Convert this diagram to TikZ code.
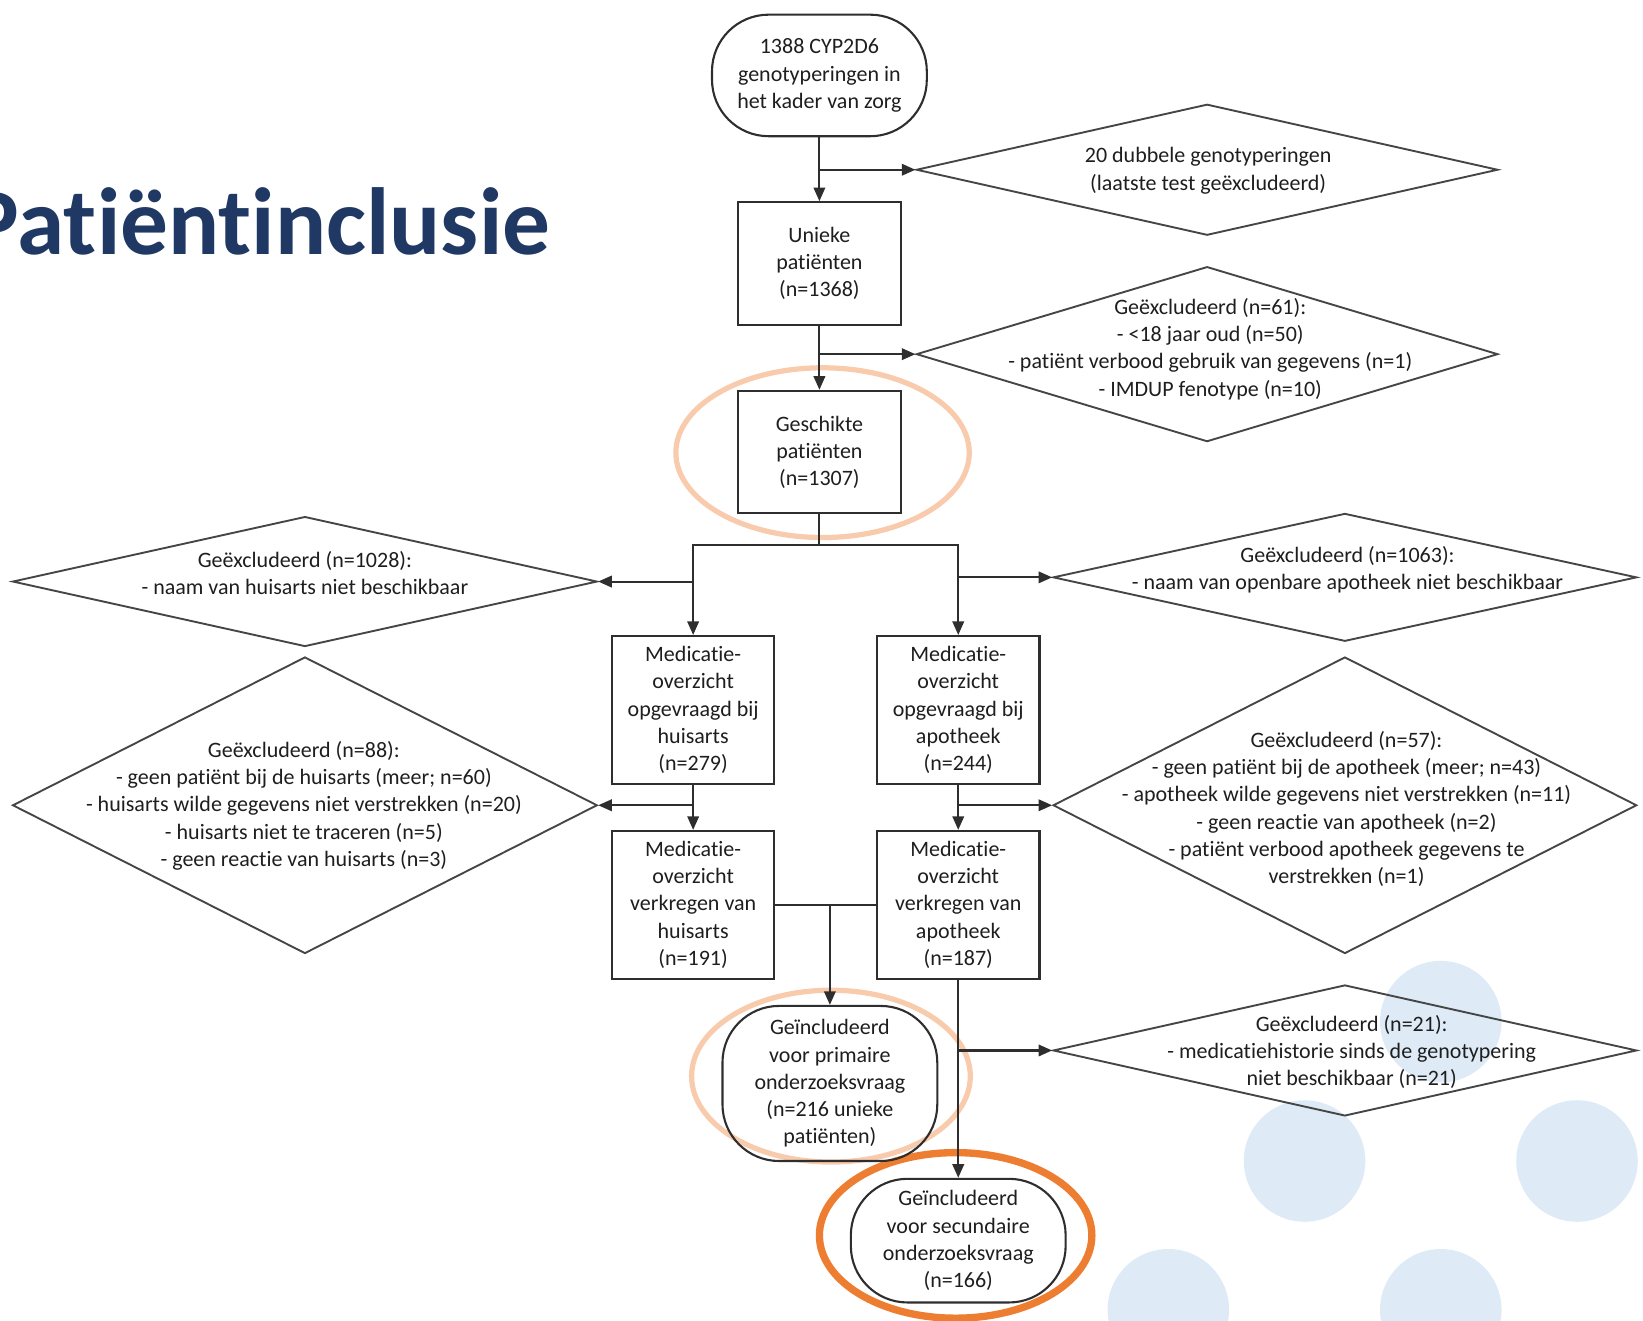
\documentclass[tikz,border=0pt]{standalone}
\usepackage{fontspec}
\setmainfont{Carlito}[Ligatures=NoCommon]
\usetikzlibrary{shapes.geometric,arrows.meta}
\definecolor{navy}{HTML}{1F3864}
\definecolor{txtcol}{HTML}{1E1E1E}
\definecolor{linecol}{HTML}{2E2E2E}
\definecolor{diacol}{HTML}{454545}
\definecolor{salmon}{HTML}{F8CBAD}
\definecolor{orng}{HTML}{ED7D31}
\definecolor{dotblue}{HTML}{DEEBF7}
\begin{document}
\begin{tikzpicture}[x=1pt,y=-1pt,
  txt/.style={font=\fontsize{21}{26}\selectfont, align=center, text=txtcol, inner sep=0pt},
  boxnode/.style={txt, draw=linecol, line width=2pt, rectangle, minimum width=155pt},
  termnode/.style={txt, draw=linecol, line width=2pt, rectangle, rounded corners=54pt, minimum width=205pt},
  dianode/.style={diamond, draw=diacol, line width=1.8pt, inner sep=0pt},
  conn/.style={draw=linecol, line width=2pt},
  arr/.style={conn, -{Triangle[length=13pt,width=11pt]}},
  hl/.style={line width=5pt, draw=salmon},
  dot/.style={fill=dotblue, draw=none}
]
\useasboundingbox (0,0) rectangle (1568,1260);
% decorative dots
\fill[dot] (1375,975) circle (58pt);
\fill[dot] (1245,1108) circle (58pt);
\fill[dot] (1505,1108) circle (58pt);
\fill[dot] (1115,1250) circle (58pt);
\fill[dot] (1375,1250) circle (58pt);
% highlight ellipses
\draw[hl] (785,432) ellipse (140pt and 81pt);
\draw[hl] (793,1027) ellipse (133pt and 82pt);
\draw[line width=7pt, draw=orng] (912,1179) ellipse (130pt and 79pt);
% title
\node[anchor=base west, font=\fontsize{91}{100}\selectfont\bfseries, text=navy, inner sep=0pt] (title) at (-30,243) {Patiëntinclusie};
% main column
\node[termnode, minimum height=116pt] (t0) at (782,72) {1388 CYP2D6\\genotyperingen in\\het kader van zorg};
\node[boxnode, minimum height=117pt] (b1) at (782,251.5) {Unieke\\patiënten\\(n=1368)};
\node[boxnode, minimum height=117pt] (b2) at (782,431.5) {Geschikte\\patiënten\\(n=1307)};
\node[boxnode, minimum height=141pt] (b3) at (661.5,677.5) {Medicatie-\\overzicht\\opgevraagd bij\\huisarts\\(n=279)};
\node[boxnode, minimum height=141pt] (b4) at (914.5,677.5) {Medicatie-\\overzicht\\opgevraagd bij\\apotheek\\(n=244)};
\node[boxnode, minimum height=141pt] (b5) at (661.5,863.5) {Medicatie-\\overzicht\\verkregen van\\huisarts\\(n=191)};
\node[boxnode, minimum height=141pt] (b6) at (914.5,863.5) {Medicatie-\\overzicht\\verkregen van\\apotheek\\(n=187)};
\node[termnode, minimum height=148pt] (t1) at (792,1034) {Geïncludeerd\\voor primaire\\onderzoeksvraag\\(n=216 unieke\\patiënten)};
\node[termnode, minimum height=118pt] (t2) at (914.5,1184) {Geïncludeerd\\voor secundaire\\onderzoeksvraag\\(n=166)};
% diamonds
\node[dianode, minimum width=555pt, minimum height=125pt] (d1) at (1152,162) {};
\node[txt] (d1t) at (1153,163) {20 dubbele genotyperingen\\(laatste test geëxcludeerd)};
\node[dianode, minimum width=555pt, minimum height=167pt] (d2) at (1152,338) {};
\node[txt] (d2t) at (1155,333) {Geëxcludeerd (n=61):\\- <18 jaar oud (n=50)\\- patiënt verbood gebruik van gegevens (n=1)\\- IMDUP fenotype (n=10)};
\node[dianode, minimum width=558pt, minimum height=124pt] (d3) at (291,555) {};
\node[txt] (d3t) at (291,547) {Geëxcludeerd (n=1028):\\- naam van huisarts niet beschikbaar};
\node[dianode, minimum width=557pt, minimum height=122pt] (d4) at (1283.5,551) {};
\node[txt] (d4t) at (1286,544) {Geëxcludeerd (n=1063):\\- naam van openbare apotheek niet beschikbaar};
\node[dianode, minimum width=558pt, minimum height=283pt] (d5) at (291,768.5) {};
\node[txt] (d5t) at (290,769) {Geëxcludeerd (n=88):\\- geen patiënt bij de huisarts (meer; n=60)\\- huisarts wilde gegevens niet verstrekken (n=20)\\- huisarts niet te traceren (n=5)\\- geen reactie van huisarts (n=3)};
\node[dianode, minimum width=557pt, minimum height=283pt] (d6) at (1283.5,768.5) {};
\node[txt] (d6t) at (1285,772) {Geëxcludeerd (n=57):\\- geen patiënt bij de apotheek (meer; n=43)\\- apotheek wilde gegevens niet verstrekken (n=11)\\- geen reactie van apotheek (n=2)\\- patiënt verbood apotheek gegevens te\\verstrekken (n=1)};
\node[dianode, minimum width=557pt, minimum height=125pt] (d7) at (1283.5,1002.5) {};
\node[txt] (d7t) at (1290,1004) {Geëxcludeerd (n=21):\\- medicatiehistorie sinds de genotypering\\niet beschikbaar (n=21)};
% connectors
\draw[arr] (t0.south) -- (b1.north);
\draw[arr] (t0.south |- d1.west) -- (d1.west);
\draw[arr] (b1.south) -- (b2.north);
\draw[arr] (b1.south |- d2.west) -- (d2.west);
\coordinate (split) at (782,520);
\draw[conn] (b2.south) -- (split);
\draw[arr] (split) -| (b3.north);
\draw[arr] (split) -| (b4.north);
\draw[arr] (b3.north |- d3.east) -- (d3.east);
\draw[arr] (b4.north |- d4.west) -- (d4.west);
\draw[arr] (b3.south) -- (b5.north);
\draw[arr] (b3.south |- d5.east) -- (d5.east);
\draw[arr] (b4.south) -- (b6.north);
\draw[arr] (b4.south |- d6.west) -- (d6.west);
\draw[conn] (b5.east) -- (b6.west);
\coordinate (merge) at (t1.north |- b5.east);
\draw[arr] (merge) -- (t1.north);
\draw[arr] (b6.south) -- (t2.north);
\draw[arr] (b6.south |- d7.west) -- (d7.west);
\end{tikzpicture}
\end{document}
